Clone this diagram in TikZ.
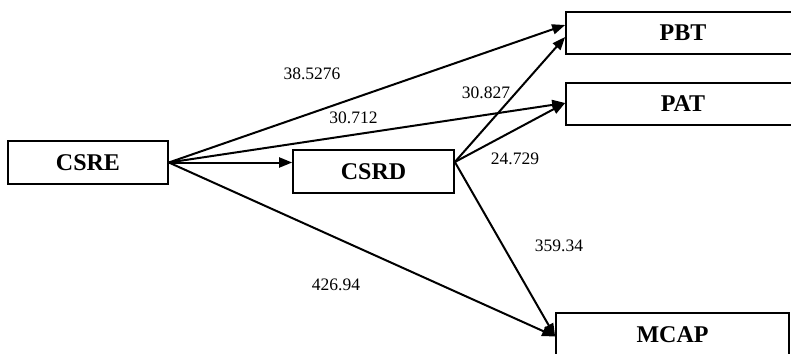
\documentclass[tikz,border=0pt]{standalone}
\usepackage{fontspec}
\setmainfont{Liberation Serif}
\usetikzlibrary{arrows.meta}
\tikzset{
  box/.style={draw, line width=1.7pt, rectangle, inner sep=0pt, font=\fontsize{24}{26}\selectfont\bfseries},
  conn/.style={line width=2pt, -{Triangle[length=13pt,width=10pt]}},
  num/.style={font=\fontsize{17.5}{19}\selectfont, inner sep=0pt}
}
\begin{document}
\begin{tikzpicture}[x=1pt,y=-1pt]
\path[use as bounding box, clip] (0,0) rectangle (791,353);
\fill[white] (0,0) rectangle (791,353);
\node[box, minimum width=160pt, minimum height=43pt] (CSRE) at (88,162.5) {CSRE};
\node[box, minimum width=161pt, minimum height=43pt] (CSRD) at (373.5,171.5) {CSRD};
\node[box, minimum width=234pt, minimum height=42pt] (PBT) at (683,33) {PBT};
\node[box, minimum width=234pt, minimum height=42pt] (PAT) at (683,104) {PAT};
\node[box, minimum width=233pt, minimum height=43pt] (MCAP) at (672.5,334.5) {MCAP};

\draw[conn] (CSRE.east) -- (CSRE.east -| CSRD.west);
\draw[conn] (CSRE.east) -- ([yshift=8pt]PBT.west);
\draw[conn] (CSRE.east) -- ([yshift=1pt]PAT.west);
\draw[conn] (CSRE.east) -- ([yshift=-2pt]MCAP.west);
\draw[conn] ([yshift=9.5pt]CSRD.east) -- ([yshift=-4pt]PBT.west);
\draw[conn] ([yshift=9.5pt]CSRD.east) -- ([yshift=1pt]PAT.west);
\draw[conn] ([yshift=9.5pt]CSRD.east) -- ([yshift=-2pt]MCAP.west);

\node[num] (l1) at (312,74) {38.5276};
\node[num] (l2) at (353.5,118) {30.712};
\node[num] (l3) at (486,93) {30.827};
\node[num] (l4) at (515,159) {24.729};
\node[num] (l5) at (559,246) {359.34};
\node[num] (l6) at (336,285) {426.94};
\end{tikzpicture}
\end{document}
